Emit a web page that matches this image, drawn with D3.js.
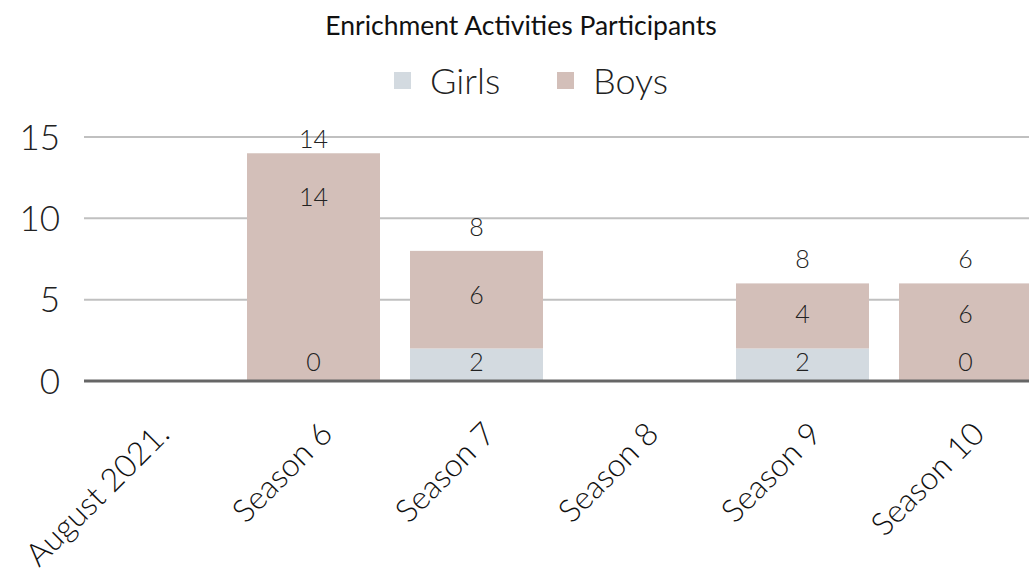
<!DOCTYPE html>
<html>
<head>
<meta charset="utf-8">
<script src="https://cdn.jsdelivr.net/npm/d3@7"></script>
<style>
  body { margin: 0; background: #fff; }
  svg { display: block; font-family: Lato, sans-serif; }
</style>
</head>
<body>
<div id="chart"></div>
<script>
var categories = ['August 2021.', 'Season 6', 'Season 7', 'Season 8', 'Season 9', 'Season 10']
var girls = [null, 0, 2, null, 2, 0]
var boys = [null, 14, 6, null, 4, 6]
var totals = [null, 14, 8, null, 8, 6]
var series_names = ['Girls', 'Boys']
var series_colors = ['#d3dae0', '#d3bfb9']
var y_ticks = [0, 5, 10, 15]

var width = 1029
var height = 572

var svg = d3.select('#chart').append('svg')
  .attr('width', width)
  .attr('height', height)

var x = d3.scaleBand().domain(categories)
  .range([69, 1047])
  .paddingInner(0.184)
  .paddingOuter(0.092)

var y = d3.scaleLinear().domain([0, 15]).range([381, 137])

// title
svg.append('text')
  .attr('x', 521).attr('y', 35)
  .attr('text-anchor', 'middle')
  .style('font-size', '26.5px')
  .style('fill', '#111')
  .text('Enrichment Activities Participants')

// legend
var legend_x = [394, 557]
series_names.forEach(function (name, i) {
  svg.append('rect')
    .attr('x', legend_x[i]).attr('y', 72)
    .attr('width', 17).attr('height', 17)
    .attr('fill', series_colors[i])
  svg.append('text')
    .attr('x', legend_x[i] + 36).attr('y', 94)
    .style('font-size', '36px')
    .style('font-weight', 300)
    .style('fill', '#222')
    .text(name)
})

// grid
svg.append('g').selectAll('line')
  .data(y_ticks.filter(function (d) { return d > 0 }))
  .enter().append('line')
  .attr('x1', 84).attr('x2', width)
  .attr('y1', function (d) { return y(d) }).attr('y2', function (d) { return y(d) })
  .attr('stroke', '#c0c0c0')
  .attr('stroke-width', 2)

// y labels
svg.append('g').selectAll('text')
  .data(y_ticks)
  .enter().append('text')
  .attr('x', 60)
  .attr('y', function (d) { return y(d) })
  .attr('dy', '0.36em')
  .attr('text-anchor', 'end')
  .style('font-size', '35px')
  .style('font-weight', 300)
  .style('fill', '#222')
  .text(function (d) { return d })

// stacked bars
var rows = categories.map(function (c, i) {
  return { cat: c, Girls: girls[i] || 0, Boys: boys[i] || 0, has: girls[i] !== null, total: totals[i] }
})
var stack = d3.stack().keys(series_names)(rows)

stack.forEach(function (layer, k) {
  svg.append('g').selectAll('rect')
    .data(layer.filter(function (d) { return d.data.has }))
    .enter().append('rect')
    .attr('x', function (d) { return x(d.data.cat) })
    .attr('width', x.bandwidth())
    .attr('y', function (d) { return y(d[1]) })
    .attr('height', function (d) { return y(d[0]) - y(d[1]) })
    .attr('fill', series_colors[k])
})

// axis line
svg.append('line')
  .attr('x1', 84).attr('x2', width)
  .attr('y1', y(0)).attr('y2', y(0))
  .attr('stroke', '#666')
  .attr('stroke-width', 3)

// value labels
var label_style = function (sel) {
  sel.attr('text-anchor', 'middle')
    .attr('dy', '0.36em')
    .style('font-size', '25px')
    .style('font-weight', 300)
    .style('fill', '#222')
}
var g_lab = svg.append('g')
rows.forEach(function (r) {
  if (!r.has) return
  var cx = x(r.cat) + x.bandwidth() / 2
  var girls_y = Math.min((y(0) + y(r.Girls)) / 2, y(0) - 19)
  var top = y(r.Girls + r.Boys)
  var boys_y = Math.min((top + y(r.Girls)) / 2, top + 44)
  boys_y = Math.min(boys_y, girls_y - 48)
  var total_y = Math.max(top - 24, 139)
  g_lab.append('text').attr('x', cx).attr('y', girls_y).call(label_style).text(r.Girls)
  g_lab.append('text').attr('x', cx).attr('y', boys_y).call(label_style).text(r.Boys)
  g_lab.append('text').attr('x', cx).attr('y', total_y).call(label_style).text(r.total)
})

// x labels
svg.append('g').selectAll('text')
  .data(categories)
  .enter().append('text')
  .attr('transform', function (d) {
    return 'translate(' + (x(d) + x.bandwidth() / 2 + 5) + ',420) rotate(-45)'
  })
  .attr('text-anchor', 'end')
  .attr('dy', '0.7em')
  .style('font-size', '32px')
  .style('font-weight', 300)
  .style('fill', '#111')
  .text(function (d) { return d })
</script>
</body>
</html>
